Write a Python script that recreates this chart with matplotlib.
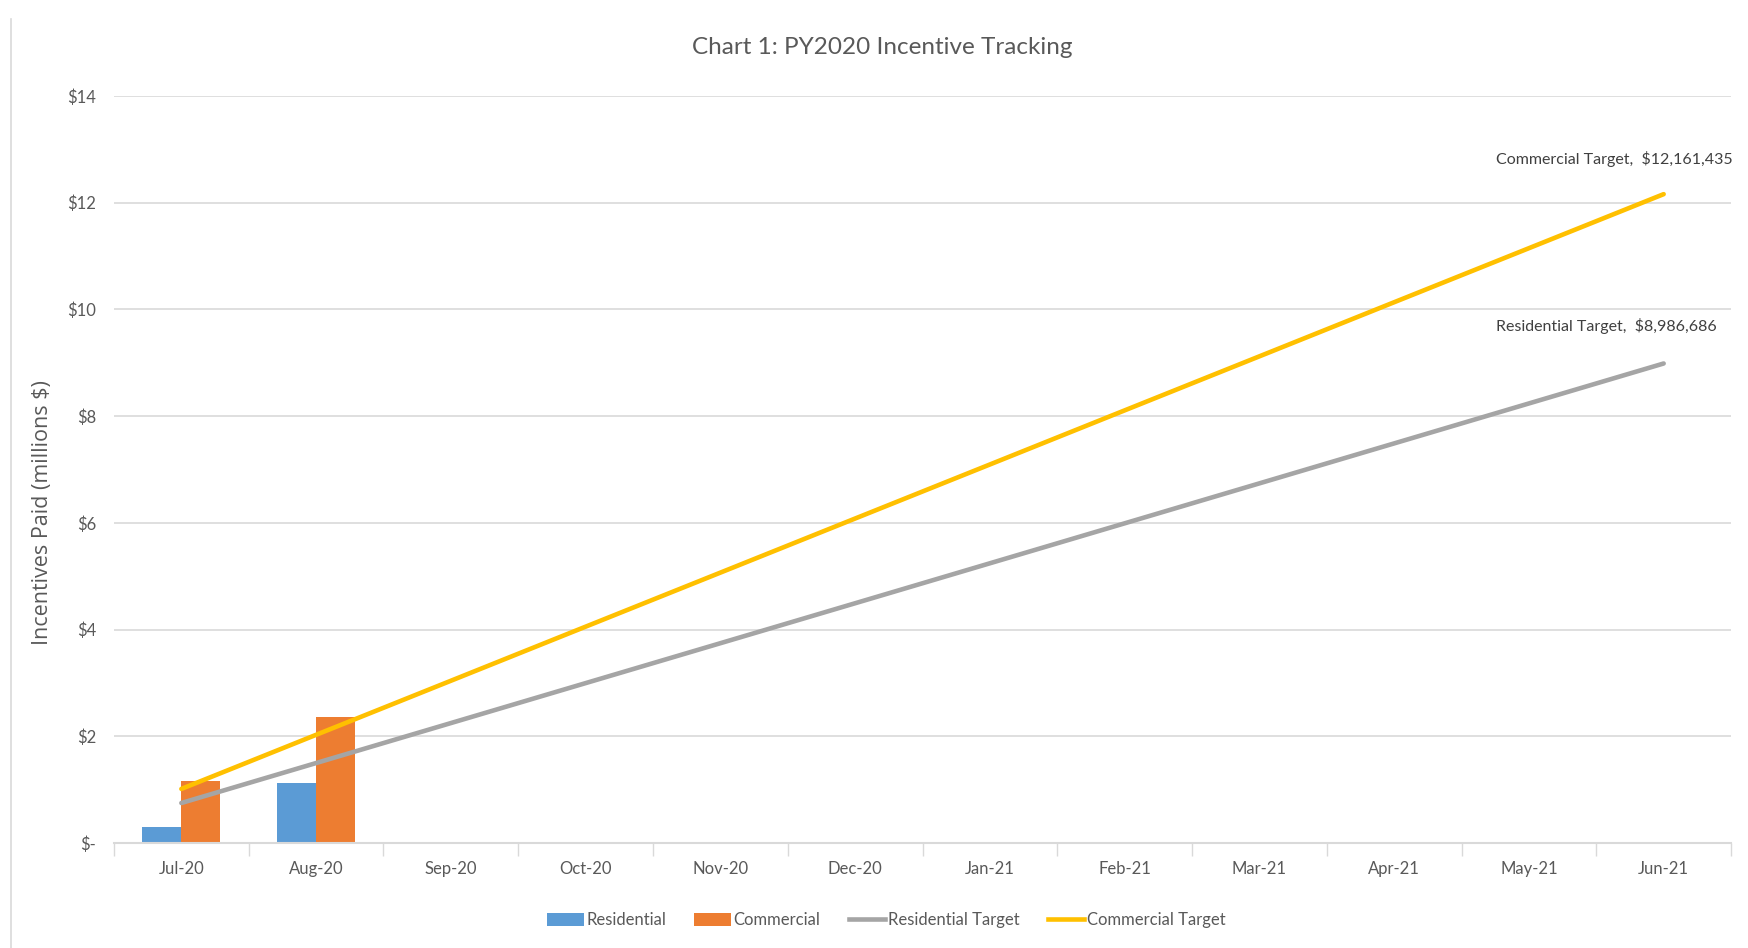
import matplotlib
matplotlib.use("Agg")
import matplotlib.pyplot as plt
from matplotlib import font_manager
from matplotlib.lines import Line2D
from matplotlib.patches import Patch
import numpy as np

months = ["Jul-20", "Aug-20", "Sep-20", "Oct-20", "Nov-20", "Dec-20",
          "Jan-21", "Feb-21", "Mar-21", "Apr-21", "May-21", "Jun-21"]
residential = [0.29, 1.13]
commercial = [1.17, 2.36]
residential_target = [0.749, 1.498, 2.247, 2.996, 3.744, 4.493,
                      5.242, 5.991, 6.740, 7.489, 8.238, 8.987]
commercial_target = [1.013, 2.027, 3.040, 4.054, 5.067, 6.081,
                     7.094, 8.108, 9.121, 10.135, 11.148, 12.161]
y_ticks = [0, 2, 4, 6, 8, 10, 12, 14]
y_ticklabels = ["$-", "$2", "$4", "$6", "$8", "$10", "$12", "$14"]
labels_end = ["Commercial Target,  $12,161,435", "Residential Target,  $8,986,686"]

names = {f.name for f in font_manager.fontManager.ttflist}
main_font = "Lato" if "Lato" in names else "Liberation Sans"
label_font = "Open Sans" if "Open Sans" in names else "DejaVu Sans"
plt.rcParams["font.family"] = [main_font, "DejaVu Sans"]

TXT = "#595959"
GRID = "#D9D9D9"
BLUE = "#5B9BD5"
ORANGE = "#ED7D31"
GRAY = "#A5A5A5"
GOLD = "#FFC000"
FS = 12

fig = plt.figure(figsize=(17.48, 9.48), dpi=100)
ax = fig.add_axes([0.0652, 0.1108, 0.9251, 0.7879])

x = np.arange(len(months))
bw = 0.29
xb = np.arange(len(residential))
ax.bar(xb - bw / 2, residential, width=bw, color=BLUE, zorder=2)
ax.bar(xb + bw / 2, commercial, width=bw, color=ORANGE, zorder=2)
ax.plot(x, residential_target, color=GRAY, lw=3.3, solid_capstyle="round", zorder=3)
ax.plot(x, commercial_target, color=GOLD, lw=3.3, solid_capstyle="round", zorder=3)

ax.set_xlim(-0.5, len(months) - 0.5)
ax.set_ylim(0, 14)
ax.set_yticks(y_ticks)
ax.set_yticklabels(y_ticklabels)
ax.set_xticks(x)
ax.set_xticklabels(months)
ax.set_xticks(np.arange(-0.5, len(months), 1.0), minor=True)
ax.tick_params(axis="x", which="major", length=0, pad=13, labelsize=FS, labelcolor=TXT)
ax.tick_params(axis="x", which="minor", length=9, width=1, color=GRID)
ax.tick_params(axis="y", length=0, pad=13, labelsize=FS, labelcolor=TXT)
ax.grid(axis="y", color=GRID, lw=1.2, zorder=0)
for s in ["top", "right", "left"]:
    ax.spines[s].set_visible(False)
ax.spines["bottom"].set_color(GRID)
ax.spines["bottom"].set_linewidth(1.5)

ax.set_ylabel("Incentives Paid (millions $)", fontsize=15.5, color=TXT,
              family=[label_font, "DejaVu Sans"])
ax.yaxis.set_label_coords(-0.0375, 0.442)

ax.set_title("Chart 1: PY2020 Incentive Tracking", fontsize=17.5, color=TXT, pad=30, x=0.475)

last = len(months) - 1
ax.annotate(labels_end[0], xy=(last, commercial_target[-1]), xytext=(-121, 25),
            textcoords="offset points", ha="left", va="center", fontsize=11.5, color="#404040")
ax.annotate(labels_end[1], xy=(last, residential_target[-1]), xytext=(-121, 27),
            textcoords="offset points", ha="left", va="center", fontsize=11.5, color="#404040")

handles = [Patch(facecolor=BLUE, label="Residential"),
           Patch(facecolor=ORANGE, label="Commercial"),
           Line2D([0], [0], color=GRAY, lw=3.3, label="Residential Target"),
           Line2D([0], [0], color=GOLD, lw=3.3, label="Commercial Target")]
leg = fig.legend(handles=handles, loc="center", bbox_to_anchor=(0.507, 0.0295), ncol=4,
                 frameon=False, fontsize=FS, handlelength=2.2, handleheight=0.8,
                 handletextpad=0.15, columnspacing=1.7)
for t in leg.get_texts():
    t.set_color(TXT)

fig.add_artist(Line2D([0.0063, 0.0063], [0.0, 0.98], color=GRID, lw=1.2,
                      transform=fig.transFigure))

fig.savefig("out.png", dpi=100, facecolor="white")
